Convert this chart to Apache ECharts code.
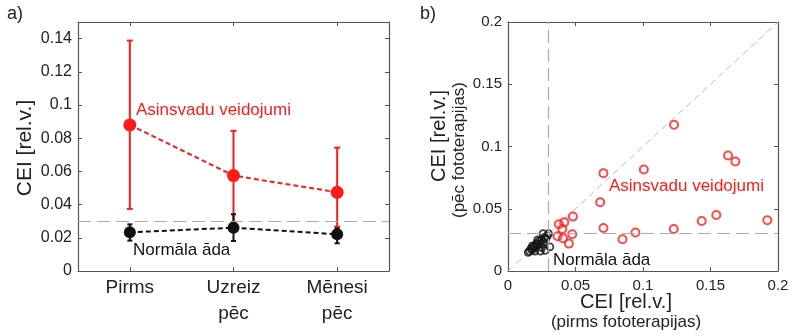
<!DOCTYPE html>
<html>
<head>
<meta charset="utf-8">
<script src="https://cdn.jsdelivr.net/npm/echarts@6/dist/echarts.min.js"></script>
<style>
  html, body { margin: 0; padding: 0; background: #fff; }
  #chart { width: 792px; height: 336px; }
</style>
</head>
<body>
<div id="chart"></div>
<script>
// a) mean CEI with error bars
const categories = ["Pirms", "Uzreiz\npēc", "Mēnesi\npēc"];
const redMean = [0.088, 0.0575, 0.0474];
const redLow = [0.0374, 0.029, 0.0267];
const redHigh = [0.1388, 0.0844, 0.0743];
const blackMean = [0.0233, 0.0261, 0.0221];
const blackLow = [0.0183, 0.0181, 0.0167];
const blackHigh = [0.0281, 0.0342, 0.0257];
const threshold = 0.03;

// b) before vs after phototherapy
const redBefore = [0.123, 0.163, 0.1684, 0.1006, 0.0707, 0.0683, 0.0481, 0.0417, 0.0377, 0.0402, 0.0367,
  0.0407, 0.0476, 0.0451, 0.0707, 0.0848, 0.0944, 0.1228, 0.1435, 0.1543, 0.1921];
const redAfter = [0.1175, 0.0928, 0.088, 0.0815, 0.0786, 0.0552, 0.0437, 0.0392, 0.0376, 0.0338, 0.0279,
  0.0263, 0.0295, 0.022, 0.0346, 0.0255, 0.0309, 0.0338, 0.0402, 0.045, 0.0408];
const blackBefore = [0.015, 0.016, 0.017, 0.018, 0.019, 0.020, 0.021, 0.022, 0.023, 0.024, 0.025, 0.026,
  0.027, 0.028, 0.026, 0.030, 0.029, 0.024, 0.020, 0.0276, 0.031, 0.022, 0.018, 0.025];
const blackAfter = [0.015, 0.016, 0.018, 0.017, 0.020, 0.019, 0.022, 0.021, 0.024, 0.022, 0.025, 0.023,
  0.027, 0.026, 0.030, 0.030, 0.028, 0.016, 0.016, 0.0166, 0.0194, 0.025, 0.020, 0.019];
const diagonal = [0, 0.2];

const font = "Liberation Sans, Arial, sans-serif";
const frame = "#555";
const RED = "#ff1a1a";

const chart = echarts.init(document.getElementById("chart"));

function errBars(color, cap) {
  return function (params, api) {
    const x = api.value(0);
    const lo = api.coord([x, api.value(1)]);
    const hi = api.coord([x, api.value(2)]);
    const st = { stroke: color, lineWidth: 2 };
    return {
      type: "group",
      children: [
        { type: "line", shape: { x1: lo[0], y1: lo[1], x2: hi[0], y2: hi[1] }, style: st },
        { type: "line", shape: { x1: hi[0] - cap, y1: hi[1], x2: hi[0] + cap, y2: hi[1] }, style: st },
        { type: "line", shape: { x1: lo[0] - cap, y1: lo[1], x2: lo[0] + cap, y2: lo[1] }, style: st },
      ],
    };
  };
}

const boxAxis = (pos, gridIndex, extra) =>
  Object.assign(
    {
      gridIndex: gridIndex,
      position: pos,
      axisLine: { show: true, onZero: false, lineStyle: { color: frame, width: 1.2 } },
      axisTick: { show: true, inside: true, length: 4, lineStyle: { color: frame } },
      axisLabel: { show: false },
      splitLine: { show: false },
    },
    extra
  );

const labelStyle = (size) => ({ color: "#222", fontFamily: font, fontSize: size });

const option = {
  animation: false,
  backgroundColor: "#fff",
  grid: [
    { left: 78, top: 22, width: 311, height: 249 },
    { left: 508, top: 22, width: 270, height: 249 },
  ],
  xAxis: [
    boxAxis("bottom", 0, {
      type: "category",
      data: categories,
      axisTick: { show: true, inside: true, length: 4, alignWithLabel: true, lineStyle: { color: frame } },
      axisLabel: Object.assign({ show: true, margin: 4, lineHeight: 26 }, labelStyle(19)),
    }),
    boxAxis("top", 0, {
      type: "category",
      data: categories,
      axisTick: { show: true, inside: true, length: 4, alignWithLabel: true, lineStyle: { color: frame } },
    }),
    boxAxis("bottom", 1, {
      type: "value", min: 0, max: 0.2, interval: 0.05,
      axisLabel: Object.assign({ show: true, margin: 7 }, labelStyle(15)),
    }),
    boxAxis("top", 1, { type: "value", min: 0, max: 0.2, interval: 0.05 }),
  ],
  yAxis: [
    boxAxis("left", 0, {
      type: "value", min: 0, max: 0.15, interval: 0.02,
      axisLabel: Object.assign({ show: true, margin: 6, showMaxLabel: false }, labelStyle(16)),
    }),
    boxAxis("right", 0, { type: "value", min: 0, max: 0.15, interval: 0.02 }),
    boxAxis("left", 1, {
      type: "value", min: 0, max: 0.2, interval: 0.05,
      axisLabel: Object.assign({ show: true, margin: 6 }, labelStyle(15)),
    }),
    boxAxis("right", 1, { type: "value", min: 0, max: 0.2, interval: 0.05 }),
  ],
  series: [
    // panel a
    {
      type: "custom",
      xAxisIndex: 0, yAxisIndex: 0,
      renderItem: errBars(RED, 3),
      encode: { x: 0, y: [1, 2] },
      data: categories.map((c, i) => [i, redLow[i], redHigh[i]]),
      z: 2,
    },
    {
      type: "custom",
      xAxisIndex: 0, yAxisIndex: 0,
      renderItem: errBars("#111", 2.5),
      encode: { x: 0, y: [1, 2] },
      data: categories.map((c, i) => [i, blackLow[i], blackHigh[i]]),
      z: 3,
    },
    {
      type: "line",
      xAxisIndex: 0, yAxisIndex: 0,
      data: redMean,
      symbol: "circle", symbolSize: 13,
      itemStyle: { color: RED },
      lineStyle: { color: RED, width: 2, type: [5, 3] },
      z: 4,
    },
    {
      type: "line",
      xAxisIndex: 0, yAxisIndex: 0,
      data: blackMean,
      symbol: "circle", symbolSize: 12,
      itemStyle: { color: "#111" },
      lineStyle: { color: "#111", width: 2, type: [5, 3] },
      z: 5,
      markLine: {
        silent: true, symbol: "none", label: { show: false },
        lineStyle: { color: "#aaa", width: 1.2, type: [13, 6] },
        data: [{ yAxis: threshold }],
      },
    },
    // panel b
    {
      type: "line",
      xAxisIndex: 2, yAxisIndex: 2,
      data: diagonal.map((v) => [v, v]),
      symbol: "none",
      lineStyle: { color: "#bbb", width: 1, type: [7, 4] },
      z: 1,
      markLine: {
        silent: true, symbol: "none", label: { show: false },
        lineStyle: { color: "#aaa", width: 1.2, type: [13, 6] },
        data: [{ xAxis: threshold }, { yAxis: threshold }],
      },
    },
    {
      type: "scatter",
      xAxisIndex: 2, yAxisIndex: 2,
      data: blackBefore.map((v, i) => [v, blackAfter[i]]),
      symbol: "circle", symbolSize: 7,
      itemStyle: { color: "transparent", borderColor: "#111", borderWidth: 1.8 },
      z: 3,
    },
    {
      type: "scatter",
      xAxisIndex: 2, yAxisIndex: 2,
      data: redBefore.map((v, i) => [v, redAfter[i]]),
      symbol: "circle", symbolSize: 8,
      itemStyle: { color: "transparent", borderColor: RED, borderWidth: 2 },
      z: 4,
    },
  ],
  graphic: [
    { type: "text", left: 7, top: 5, style: { text: "a)", font: "18px " + font, fill: "#222" } },
    { type: "text", left: 420, top: 5, style: { text: "b)", font: "18px " + font, fill: "#222" } },
    {
      type: "text", x: 25, y: 148, rotation: Math.PI / 2,
      style: { text: "CEI [rel.v.]", font: "21px " + font, fill: "#222", align: "center", verticalAlign: "middle" },
    },
    {
      type: "text", x: 136, y: 110,
      style: { text: "Asinsvadu veidojumi", font: "17px " + font, fill: RED, verticalAlign: "middle" },
    },
    {
      type: "text", x: 133, y: 250,
      style: { text: "Normāla āda", font: "17px " + font, fill: "#111", verticalAlign: "middle" },
    },
    {
      type: "text", x: 609, y: 186,
      style: { text: "Asinsvadu veidojumi", font: "17px " + font, fill: RED, verticalAlign: "middle" },
    },
    {
      type: "text", x: 553, y: 260,
      style: { text: "Normāla āda", font: "17px " + font, fill: "#111", verticalAlign: "middle" },
    },
    {
      type: "text", x: 439, y: 136, rotation: Math.PI / 2,
      style: { text: "CEI [rel.v.]", font: "20px " + font, fill: "#222", align: "center", verticalAlign: "middle" },
    },
    {
      type: "text", x: 459, y: 150, rotation: Math.PI / 2,
      style: { text: "(pēc fototerapijas)", font: "17px " + font, fill: "#222", align: "center", verticalAlign: "middle" },
    },
    {
      type: "text", x: 626, y: 302,
      style: { text: "CEI [rel.v.]", font: "20px " + font, fill: "#222", align: "center", verticalAlign: "middle" },
    },
    {
      type: "text", x: 626, y: 322,
      style: { text: "(pirms fototerapijas)", font: "17px " + font, fill: "#222", align: "center", verticalAlign: "middle" },
    },
  ],
};

chart.setOption(option);
</script>
</body>
</html>
